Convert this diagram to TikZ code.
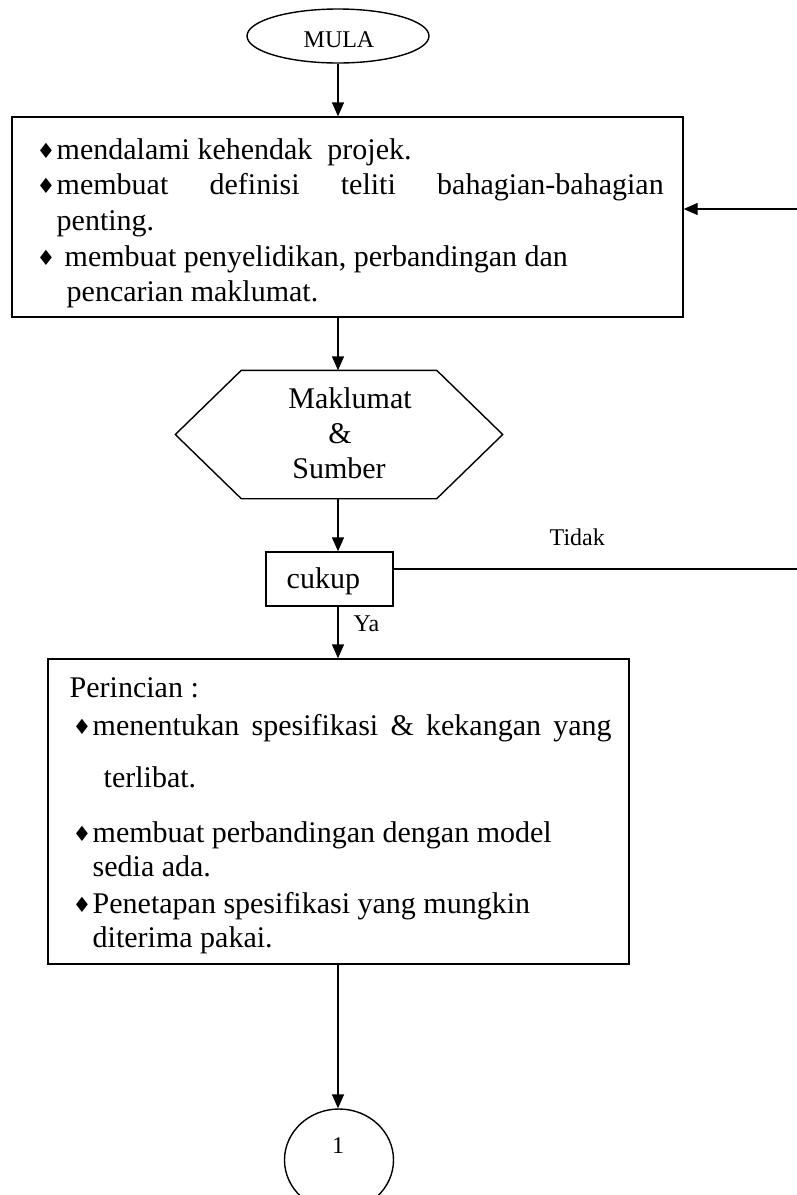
\documentclass[tikz,border=0pt]{standalone}
\usepackage{fontspec}
\setmainfont{Liberation Serif}
\newfontfamily\symfont{DejaVu Sans}
\usetikzlibrary{arrows.meta,shapes.geometric}
\begin{document}
\begin{tikzpicture}[x=1pt,y=-1pt,
  line width=1.4pt,
  conn/.style={-{Triangle[length=14pt,width=12pt]}},
  big/.style={font=\fontsize{30}{35}\selectfont, inner sep=0pt, anchor=base west},
  bigc/.style={font=\fontsize{30}{35}\selectfont, inner sep=0pt, anchor=base},
  small/.style={font=\fontsize{24}{28}\selectfont, inner sep=0pt, anchor=base west},
  bul/.style={font=\symfont\fontsize{21}{24}\selectfont, inner sep=0pt, anchor=base west},
  box/.style={draw, rectangle, inner sep=0pt},
]
\useasboundingbox (0,0) rectangle (797,1195);

% start
\node (mula) [draw, ellipse, inner sep=0pt, minimum width=182pt, minimum height=54pt] at (338,36) {};
\node (mulat) [small, anchor=base] at (339,47) {MULA};

% box 1
\node (box1) [box, minimum width=671pt, minimum height=200pt] at (347.5,217) {};
\node (b11) [bul] at (36,158) {♦};
\node (t11) [big] at (56,159) {mendalami kehendak\ \ projek.};
\node (b12) [bul] at (36,193) {♦};
\node (t12) [big] at (56,194) {\makebox[607pt][s]{membuat definisi teliti bahagian-bahagian}};
\node (t13) [big] at (56,230) {penting.};
\node (b14) [bul] at (36,265) {♦};
\node (t14) [big] at (64,266) {membuat penyelidikan, perbandingan dan};
\node (t15) [big] at (66,301) {pencarian maklumat.};

% hexagon
\node (hex) [inner sep=0pt, minimum width=326pt, minimum height=127pt] at (339,434.5) {};
\draw (hex.west) -- ([xshift=66pt]hex.north west) -- ([xshift=-66pt]hex.north east)
  -- (hex.east) -- ([xshift=-66pt]hex.south east) -- ([xshift=66pt]hex.south west) -- cycle;
\node (h1) [bigc] at (350,408) {Maklumat};
\node (h2) [bigc] at (340,443) {\&};
\node (h3) [bigc] at (339,478) {Sumber};

% decision
\node (cukup) [box, minimum width=127pt, minimum height=54pt] at (329.5,579) {};
\node (cukupt) [big] at (286,588) {cukup};
\node (tidak) [small] at (549,545) {Tidak};
\node (ya) [small] at (353,631) {Ya};

% box 3
\node (box3) [box, minimum width=581pt, minimum height=305pt] at (338.5,811.5) {};
\node (t30) [big] at (69,697) {Perincian :};
\node (b31) [bul] at (72,734) {♦};
\node (t31) [big] at (92,735) {\makebox[519pt][s]{menentukan spesifikasi \& kekangan yang}};
\node (t32) [big] at (103,787) {terlibat.};
\node (b33) [bul] at (72,841) {♦};
\node (t33) [big] at (92,842) {membuat perbandingan dengan model};
\node (t34) [big] at (92,876) {sedia ada.};
\node (b35) [bul] at (72,912) {♦};
\node (t35) [big] at (92,913) {Penetapan spesifikasi yang mungkin};
\node (t36) [big] at (92,947) {diterima pakai.};

% connector circle
\node (circ) [draw, ellipse, inner sep=0pt, minimum width=109pt, minimum height=102pt] at (339,1160) {};
\node (circt) [small, anchor=base] at (338,1153) {1};

% connectors
\draw[conn] (mula.south) -- (mula.south |- box1.north);
\draw[conn] (box1.south -| mula.south) -- (hex.north -| mula.south);
\draw[conn] (hex.south -| mula.south) -- (mula.south |- cukup.north);
\draw[conn] (cukup.south -| mula.south) -- (mula.south |- box3.north);
\draw[conn] (box3.south -| mula.south) -- (mula.south |- circ.north);
\coordinate (tE) at (803,569);
\coordinate (tN) at (803,209);
\draw[conn] (cukup.east |- tE) -- (tE) -- (tN) -- (tN -| box1.east);
\end{tikzpicture}
\end{document}
